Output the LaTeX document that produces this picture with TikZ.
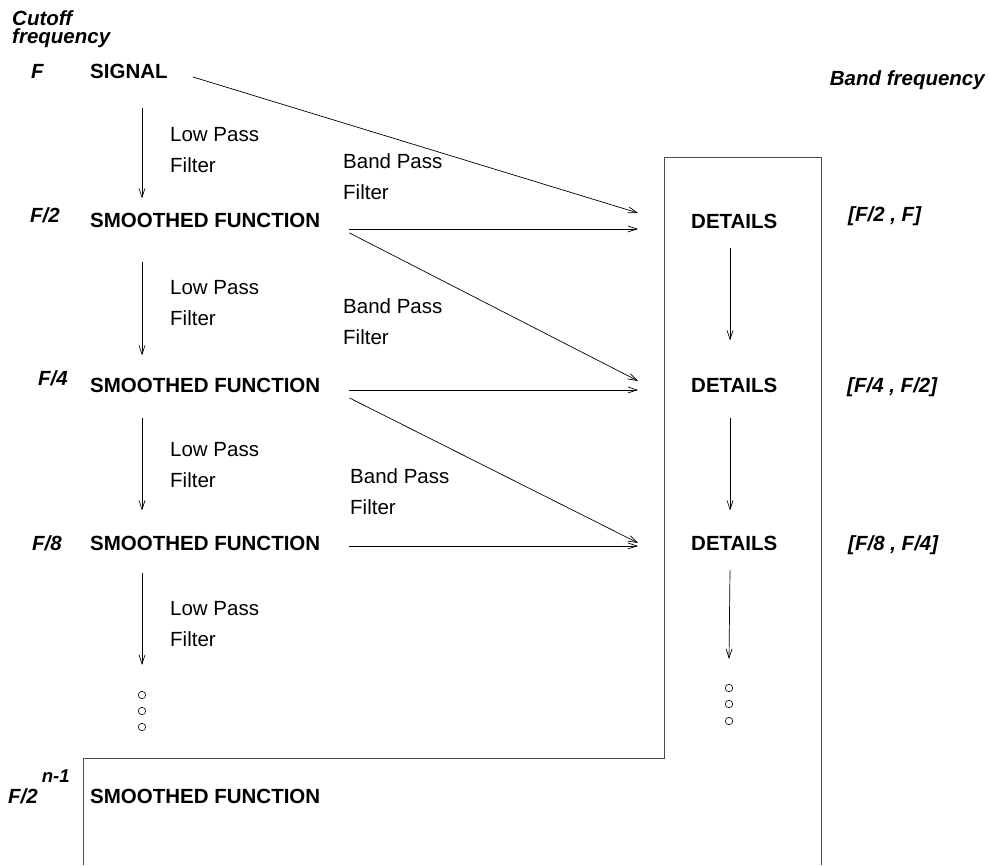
\documentclass[tikz,border=0pt]{standalone}
\usepackage{fontspec}
\setmainfont{Liberation Sans}
\usetikzlibrary{arrows.meta}

\begin{document}
\begin{tikzpicture}[
    x=1pt, y=-1pt,
    every node/.style={inner sep=0pt, font=\fontsize{20.5}{24}\selectfont},
    bigtext/.style={font=\fontsize{20.5}{24}\selectfont\bfseries},
    freq/.style={font=\fontsize{20.5}{24}\selectfont\bfseries\itshape},
    filtertext/.style={align=left, anchor=west, font=\fontsize{20.5}{31}\selectfont},
    flow/.style={draw, -{Straight Barb[length=9pt,width=6pt]}, line width=0.7pt},
    frame/.style={draw=black!70, line width=1pt},
    dot/.style={circle, draw, minimum size=7.5pt, inner sep=0pt, line width=0.6pt}
]
\useasboundingbox (0,0) rectangle (990,865);

% column headings
\node[freq, align=left, anchor=north west, font=\fontsize{20.5}{18}\selectfont\bfseries\itshape] (cutoff) at (12,10) {Cutoff\\frequency};
\node[freq, anchor=base east] (bandfreq) at (985,85) {Band frequency};

% left column
\node[freq, anchor=base west] (fsig) at (31,78) {F};
\node[bigtext, anchor=base west] (signal) at (90,78) {SIGNAL};
\node[freq, anchor=base west] (f2) at (30,222) {F/2};
\node[bigtext, anchor=base west] (sm1) at (90,227) {SMOOTHED FUNCTION};
\node[freq, anchor=base west] (f4) at (38,385) {F/4};
\node[bigtext, anchor=base west] (sm2) at (90,392) {SMOOTHED FUNCTION};
\node[freq, anchor=base west] (f8) at (32,550) {F/8};
\node[bigtext, anchor=base west] (sm3) at (90,550) {SMOOTHED FUNCTION};
\node[dot] (ld1) at (142,695) {};
\node[dot] (ld2) at (142,711) {};
\node[dot] (ld3) at (142,727) {};
\node[freq, anchor=base west] (fn) at (8,803)
    {F/2\hspace{4pt}\raisebox{21pt}{\fontsize{18.5}{18.5}\selectfont\bfseries\itshape n-1}};
\node[bigtext, anchor=base west] (sm4) at (90,803) {SMOOTHED FUNCTION};

% right column
\node[bigtext, anchor=base west] (det1) at (691,228) {DETAILS};
\node[bigtext, anchor=base west] (det2) at (691,392) {DETAILS};
\node[bigtext, anchor=base west] (det3) at (691,550) {DETAILS};
\node[dot] (rd1) at (729,688) {};
\node[dot] (rd2) at (729,704) {};
\node[dot] (rd3) at (729,721) {};
\node[freq, anchor=base west] (band1) at (848,221) {[F/2 , F]};
\node[freq, anchor=base west] (band2) at (847,392) {[F/4 , F/2]};
\node[freq, anchor=base west] (band3) at (848,550) {[F/8 , F/4]};

% filter labels
\node[filtertext] (lp1) at (170,150) {Low Pass\\Filter};
\node[filtertext] (lp2) at (170,303) {Low Pass\\Filter};
\node[filtertext] (lp3) at (170,465) {Low Pass\\Filter};
\node[filtertext] (lp4) at (170,624) {Low Pass\\Filter};
\node[filtertext] (bp1) at (343,177) {Band Pass\\Filter};
\node[filtertext] (bp2) at (343,322) {Band Pass\\Filter};
\node[filtertext] (bp3) at (350,492) {Band Pass\\Filter};

% frame
\draw[frame] (83,865) -- (83,758) -- (664,758) -- (664,157) -- (821,157) -- (821,865);

% low pass arrows
\draw[flow] ([xshift=52pt,yshift=-30pt]signal.south west) -- ([xshift=52pt,yshift=14pt]sm1.north west);
\draw[flow] ([xshift=52pt,yshift=-35pt]sm1.south west) -- ([xshift=52pt,yshift=22pt]sm2.north west);
\draw[flow] ([xshift=52pt,yshift=-26pt]sm2.south west) -- ([xshift=52pt,yshift=25pt]sm3.north west);
\draw[flow] ([xshift=52pt,yshift=-23pt]sm3.south west) -- ([yshift=26pt]ld1.north);

% band pass arrows
\draw[flow] ([xshift=25pt,yshift=-6pt]signal.east) -- ([xshift=-53pt,yshift=8pt]det1.west);
\draw[flow] ([xshift=29pt,yshift=-9pt]sm1.east) -- ([xshift=-53pt,yshift=-8pt]det1.west);
\draw[flow] ([xshift=29pt,yshift=-13pt]sm1.east) -- ([xshift=-53pt,yshift=4pt]det2.west);
\draw[flow] ([xshift=29pt,yshift=-5pt]sm2.east) -- ([xshift=-53pt,yshift=-5pt]det2.west);
\draw[flow] ([xshift=29pt,yshift=-13pt]sm2.east) -- ([xshift=-53pt]det3.west);
\draw[flow] ([xshift=29pt,yshift=-3pt]sm3.east) -- ([xshift=-53pt,yshift=-3pt]det3.west);

% details arrows
\draw[flow] ([xshift=39pt,yshift=-20pt]det1.south west) -- ([xshift=39pt,yshift=37pt]det2.north west);
\draw[flow] ([xshift=39pt,yshift=-26pt]det2.south west) -- ([xshift=39pt,yshift=25pt]det3.north west);
\draw[flow] ([xshift=39pt,yshift=-20pt]det3.south west) -- ([yshift=25pt]rd1.north);
\end{tikzpicture}
\end{document}
